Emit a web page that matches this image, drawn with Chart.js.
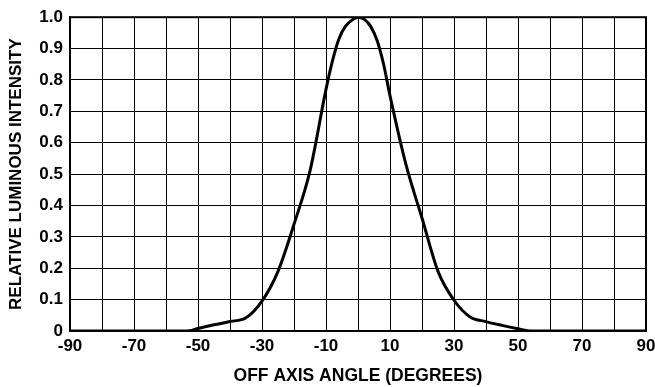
<!DOCTYPE html>
<html>
<head>
<meta charset="utf-8">
<script src="https://cdn.jsdelivr.net/npm/chart.js@4/dist/chart.umd.min.js"></script>
<style>
  html, body { margin: 0; padding: 0; background: #fff; }
  #wrap { width: 655px; height: 387px; }
</style>
</head>
<body>
<div id="wrap"><canvas id="chart"></canvas></div>
<script>
// off axis angle (degrees) vs relative intensity
const angles = [-90, -70, -55, -52, -50, -45, -40, -35, -30, -25, -20, -15, -10, -8, -6, -4, -2, 0, 2, 4, 6, 8, 10, 15, 20, 25, 30, 35, 40, 45, 50, 53, 55, 70, 90];
const intensity = [0, 0, 0, 0.002, 0.008, 0.02, 0.03, 0.042, 0.095, 0.19, 0.34, 0.51, 0.77, 0.86, 0.93, 0.97, 0.99, 1.0, 0.993, 0.97, 0.925, 0.85, 0.75, 0.53, 0.36, 0.19, 0.098, 0.045, 0.03, 0.018, 0.007, 0.001, 0, 0, 0];
const xTicks = [-90, -70, -50, -30, -10, 10, 30, 50, 70, 90];

const points = angles.map((a, i) => ({ x: a, y: intensity[i] }));
const fam = 'Liberation Sans, Arial, sans-serif';
const tickFont = { family: fam, size: 17, weight: 'bold' };

new Chart(document.getElementById('chart'), {
  type: 'line',
  data: {
    datasets: [{
      data: points,
      borderColor: '#000',
      borderWidth: 3,
      pointRadius: 0,
      cubicInterpolationMode: 'monotone',
      fill: false
    }]
  },
  options: {
    responsive: true,
    maintainAspectRatio: false,
    animation: false,
    layout: { padding: { top: 15, right: 9, left: 0, bottom: 0 } },
    plugins: { legend: { display: false }, tooltip: { enabled: false } },
    scales: {
      x: {
        type: 'linear',
        min: -90,
        max: 90,
        afterFit: s => { s.height = 56; s.paddingRight = 0; s.paddingLeft = 0; },
        ticks: {
          stepSize: 10,
          autoSkip: false,
          maxRotation: 0,
          color: '#000',
          font: tickFont,
          padding: 5,
          callback: v => xTicks.includes(v) ? String(v) : ''
        },
        grid: { color: '#000', lineWidth: 1, drawTicks: false },
        border: { color: '#000', width: 2 },
        title: { display: true, text: 'OFF AXIS ANGLE (DEGREES)', color: '#000', font: { family: fam, size: 17.5, weight: 'bold' }, padding: 0 }
      },
      y: {
        min: 0,
        max: 1,
        afterFit: s => { s.width = 70; },
        ticks: {
          stepSize: 0.1,
          color: '#000',
          font: tickFont,
          padding: 7,
          callback: v => v === 0 ? '0' : v.toFixed(1)
        },
        grid: { color: '#000', lineWidth: 1, drawTicks: false },
        border: { color: '#000', width: 2 },
        title: { display: true, text: 'RELATIVE LUMINOUS INTENSITY', color: '#000', font: { family: fam, size: 17, weight: 'bold' }, padding: { top: 6, bottom: 0 } }
      }
    }
  },
  plugins: [{
    id: 'frame',
    afterDraw(chart) {
      const { ctx, chartArea: a } = chart;
      ctx.save();
      ctx.strokeStyle = '#000';
      ctx.lineWidth = 2;
      ctx.strokeRect(a.left, a.top, a.right - a.left, a.bottom - a.top);
      ctx.restore();
    }
  }]
});
</script>
</body>
</html>
